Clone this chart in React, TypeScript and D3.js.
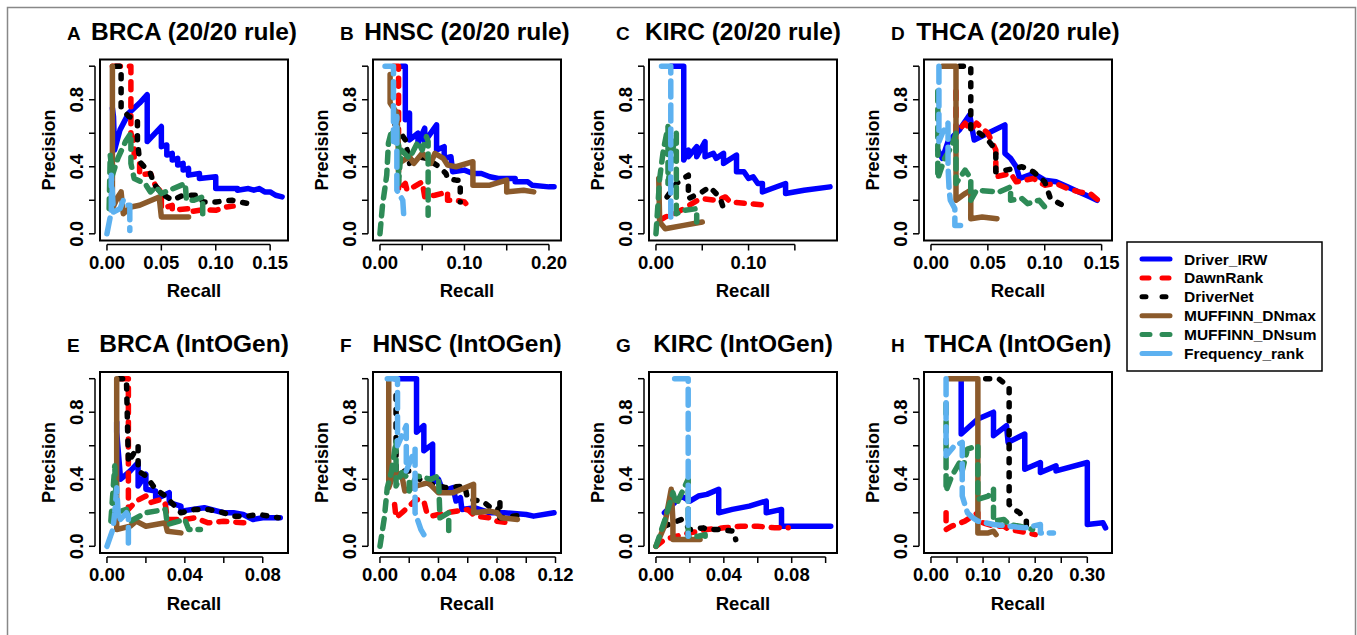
import React from "react";
import * as d3 from "d3";

type Pt = [number, number];

const methods = ["Driver_IRW", "DawnRank", "DriverNet", "MUFFINN_DNmax", "MUFFINN_DNsum", "Frequency_rank"];
const methodColors = ["#0000FF", "#FF0000", "#000000", "#8B5A2B", "#2E8B57", "#5DB1F0"];
const methodDash: (string | null)[] = [null, "8 9", "4 10", null, "10 8", "16 8"];
const legendDash: (string | null)[] = [null, "7 13", "4 16", null, "8 12", null];

const panelLetters = ["A", "B", "C", "D", "E", "F", "G", "H"];
const panelTitles = [
  "BRCA (20/20 rule)", "HNSC (20/20 rule)", "KIRC (20/20 rule)", "THCA (20/20 rule)",
  "BRCA (IntOGen)", "HNSC (IntOGen)", "KIRC (IntOGen)", "THCA (IntOGen)",
];
const panelXMax = [0.16, 0.206, 0.188, 0.153, 0.0894, 0.119, 0.1026, 0.334];
const panelXTicks = [
  [0, 0.05, 0.1, 0.15],
  [0, 0.05, 0.1, 0.15, 0.2],
  [0, 0.05, 0.1, 0.15],
  [0, 0.05, 0.1, 0.15],
  [0, 0.02, 0.04, 0.06, 0.08],
  [0, 0.02, 0.04, 0.06, 0.08, 0.1, 0.12],
  [0, 0.02, 0.04, 0.06, 0.08, 0.1],
  [0, 0.05, 0.1, 0.15, 0.2, 0.25, 0.3],
];
const panelXLabels = [
  [0, 0.05, 0.1, 0.15],
  [0, 0.1, 0.2],
  [0, 0.1],
  [0, 0.05, 0.1, 0.15],
  [0, 0.04, 0.08],
  [0, 0.04, 0.08, 0.12],
  [0, 0.04, 0.08],
  [0, 0.1, 0.2, 0.3],
];
const yTicks = [0, 0.2, 0.4, 0.6, 0.8, 1.0];
const yLabels = [0, 0.4, 0.8];

// ---------- A: BRCA (20/20 rule) ----------
const A_irw: Pt[] = [[0.005,0.75],[0.006,0.7],[0.007,0.5],[0.012,0.62],[0.02,0.72],[0.03,0.78],[0.037,0.83],[0.037,0.55],[0.05,0.64],[0.05,0.52],[0.055,0.53],[0.055,0.47],[0.06,0.48],[0.06,0.44],[0.065,0.45],[0.065,0.41],[0.07,0.42],[0.07,0.38],[0.075,0.39],[0.075,0.35],[0.085,0.36],[0.085,0.33],[0.1,0.34],[0.1,0.27],[0.12,0.27],[0.12,0.26],[0.13,0.27],[0.135,0.26],[0.14,0.27],[0.145,0.25],[0.15,0.25],[0.155,0.23],[0.161,0.22]];
const A_dawn: Pt[] = [[0.005,1.0],[0.022,1.0],[0.022,0.6],[0.025,0.55],[0.025,0.45],[0.03,0.42],[0.03,0.35],[0.04,0.36],[0.045,0.28],[0.05,0.25],[0.05,0.15],[0.06,0.17],[0.06,0.14],[0.075,0.15],[0.075,0.13],[0.09,0.145],[0.1,0.14],[0.11,0.16],[0.116,0.165]];
const A_dnet: Pt[] = [[0.008,1.0],[0.013,1.0],[0.013,0.75],[0.02,0.7],[0.028,0.68],[0.028,0.56],[0.03,0.43],[0.04,0.36],[0.043,0.3],[0.05,0.24],[0.06,0.2],[0.07,0.23],[0.085,0.23],[0.088,0.19],[0.1,0.19],[0.115,0.2],[0.13,0.18]];
const A_max: Pt[] = [[0.005,1.0],[0.005,0.15],[0.01,0.22],[0.013,0.25],[0.015,0.12],[0.02,0.15],[0.022,0.16],[0.03,0.17],[0.048,0.22],[0.05,0.1],[0.058,0.1],[0.075,0.1]];
const A_sum: Pt[] = [[0.002,0.15],[0.003,0.47],[0.005,0.35],[0.01,0.45],[0.017,0.55],[0.022,0.6],[0.022,0.42],[0.025,0.33],[0.035,0.3],[0.04,0.25],[0.045,0.28],[0.05,0.24],[0.072,0.3],[0.073,0.2],[0.08,0.2],[0.088,0.22],[0.088,0.12]];
const A_freq: Pt[] = [[0,0],[0.003,0.1],[0.004,0.12],[0.004,0.35],[0.006,0.13],[0.012,0.15],[0.015,0.2],[0.018,0.17],[0.021,0.17],[0.021,0.02]];

// ---------- B: HNSC (20/20 rule) ----------
const B_irw: Pt[] = [[0.025,1.0],[0.03,1.0],[0.03,0.68],[0.035,0.72],[0.035,0.56],[0.045,0.6],[0.045,0.54],[0.053,0.63],[0.053,0.55],[0.067,0.65],[0.067,0.5],[0.076,0.52],[0.076,0.45],[0.084,0.46],[0.086,0.37],[0.1,0.38],[0.11,0.36],[0.12,0.36],[0.13,0.34],[0.14,0.33],[0.16,0.33],[0.16,0.31],[0.175,0.31],[0.18,0.29],[0.2,0.28],[0.206,0.28]];
const B_dawn: Pt[] = [[0.016,1.0],[0.022,1.0],[0.022,0.75],[0.022,0.26],[0.03,0.3],[0.032,0.26],[0.04,0.28],[0.05,0.31],[0.053,0.22],[0.065,0.23],[0.08,0.25],[0.08,0.2],[0.09,0.2],[0.1,0.19],[0.105,0.16]];
const B_dnet: Pt[] = [[0.018,0.65],[0.022,0.62],[0.03,0.56],[0.035,0.42],[0.045,0.46],[0.055,0.45],[0.07,0.4],[0.078,0.36],[0.08,0.33],[0.09,0.32],[0.095,0.32],[0.095,0.19]];
const B_max: Pt[] = [[0.012,0.95],[0.012,0.78],[0.02,0.72],[0.022,0.5],[0.022,0.42],[0.035,0.46],[0.04,0.42],[0.05,0.48],[0.055,0.46],[0.06,0.42],[0.065,0.48],[0.075,0.45],[0.08,0.41],[0.09,0.4],[0.11,0.43],[0.11,0.29],[0.13,0.29],[0.15,0.32],[0.15,0.25],[0.17,0.26],[0.182,0.25]];
const B_sum: Pt[] = [[0,0],[0.003,0.17],[0.008,0.35],[0.01,0.54],[0.014,0.62],[0.018,0.55],[0.02,0.62],[0.022,0.55],[0.022,0.3],[0.025,0.5],[0.035,0.45],[0.045,0.55],[0.05,0.5],[0.055,0.58],[0.057,0.55],[0.057,0.11]];
const B_freq: Pt[] = [[0.006,1.0],[0.016,1.0],[0.016,0.55],[0.02,0.7],[0.02,0.26],[0.027,0.2],[0.028,0.12]];

// ---------- C: KIRC (20/20 rule) ----------
const C_irw: Pt[] = [[0.016,1.0],[0.03,1.0],[0.03,0.44],[0.035,0.5],[0.035,0.46],[0.044,0.52],[0.044,0.46],[0.053,0.55],[0.053,0.46],[0.062,0.48],[0.065,0.45],[0.073,0.48],[0.073,0.42],[0.087,0.47],[0.087,0.37],[0.095,0.37],[0.1,0.33],[0.105,0.34],[0.11,0.3],[0.115,0.3],[0.115,0.25],[0.14,0.3],[0.14,0.24],[0.16,0.26],[0.188,0.28]];
const C_dawn: Pt[] = [[0.004,0.08],[0.01,0.1],[0.02,0.12],[0.03,0.15],[0.045,0.2],[0.05,0.21],[0.065,0.2],[0.075,0.22],[0.08,0.19],[0.1,0.18],[0.12,0.17]];
const C_dnet: Pt[] = [[0.012,0.22],[0.022,0.3],[0.035,0.35],[0.035,0.21],[0.05,0.25],[0.058,0.28],[0.065,0.24],[0.07,0.2],[0.073,0.15]];
const C_max: Pt[] = [[0.003,0.33],[0.004,0.07],[0.01,0.03],[0.03,0.05],[0.05,0.07]];
const C_sum: Pt[] = [[0,0],[0.004,0.33],[0.008,0.5],[0.013,0.64],[0.013,0.3],[0.018,0.5],[0.022,0.6],[0.022,0.12],[0.03,0.14],[0.044,0.15],[0.044,0.07]];
const C_freq: Pt[] = [[0.006,1.0],[0.016,1.0],[0.016,0.1]];

// ---------- D: THCA (20/20 rule) ----------
const D_irw: Pt[] = [[0.006,0.5],[0.01,0.45],[0.015,0.55],[0.025,0.62],[0.034,0.71],[0.038,0.56],[0.05,0.6],[0.065,0.65],[0.065,0.48],[0.07,0.45],[0.075,0.4],[0.078,0.33],[0.09,0.36],[0.1,0.32],[0.11,0.31],[0.12,0.28],[0.13,0.25],[0.14,0.22],[0.146,0.2]];
const D_dawn: Pt[] = [[0.022,0.85],[0.022,0.6],[0.03,0.66],[0.035,0.62],[0.04,0.66],[0.05,0.6],[0.057,0.5],[0.057,0.34],[0.07,0.36],[0.075,0.31],[0.09,0.33],[0.1,0.29],[0.11,0.3],[0.12,0.27],[0.13,0.25],[0.14,0.24],[0.147,0.2]];
const D_dnet: Pt[] = [[0.025,1.0],[0.035,1.0],[0.035,0.62],[0.043,0.6],[0.05,0.56],[0.057,0.5],[0.057,0.37],[0.066,0.38],[0.08,0.4],[0.09,0.37],[0.1,0.31],[0.105,0.21],[0.116,0.17]];
const D_max: Pt[] = [[0.01,1.0],[0.022,1.0],[0.022,0.2],[0.03,0.24],[0.035,0.26],[0.035,0.09],[0.045,0.1],[0.058,0.09]];
const D_sum: Pt[] = [[0.006,0.85],[0.006,0.33],[0.012,0.45],[0.018,0.52],[0.022,0.6],[0.022,0.3],[0.03,0.38],[0.035,0.33],[0.035,0.2],[0.04,0.26],[0.06,0.25],[0.07,0.28],[0.07,0.2],[0.08,0.21],[0.085,0.18],[0.095,0.2],[0.1,0.16],[0.106,0.16]];
const D_freq: Pt[] = [[0.007,1.0],[0.007,0.55],[0.01,0.6],[0.015,0.66],[0.015,0.4],[0.016,0.26],[0.017,0.2],[0.021,0.15],[0.021,0.05],[0.026,0.05]];

// ---------- E: BRCA (IntOGen) ----------
const E_irw: Pt[] = [[0.005,0.74],[0.005,0.68],[0.007,0.4],[0.012,0.45],[0.016,0.5],[0.016,0.36],[0.02,0.43],[0.02,0.34],[0.025,0.33],[0.025,0.28],[0.032,0.32],[0.032,0.26],[0.038,0.24],[0.038,0.21],[0.05,0.23],[0.06,0.2],[0.065,0.2],[0.07,0.19],[0.075,0.16],[0.08,0.17],[0.089,0.17]];
const E_dawn: Pt[] = [[0.007,1.0],[0.011,1.0],[0.011,0.68],[0.011,0.22],[0.015,0.27],[0.02,0.3],[0.022,0.26],[0.028,0.28],[0.03,0.25],[0.031,0.16],[0.04,0.16],[0.045,0.17],[0.052,0.14],[0.06,0.15],[0.07,0.14],[0.073,0.14]];
const E_dnet: Pt[] = [[0.006,1.0],[0.01,1.0],[0.011,0.5],[0.016,0.6],[0.016,0.45],[0.02,0.42],[0.025,0.34],[0.03,0.3],[0.038,0.2],[0.045,0.22],[0.052,0.22],[0.06,0.2],[0.065,0.18],[0.072,0.18],[0.078,0.19],[0.088,0.17]];
const E_max: Pt[] = [[0.005,1.0],[0.005,0.1],[0.012,0.12],[0.015,0.15],[0.02,0.12],[0.03,0.14],[0.031,0.09],[0.038,0.08]];
const E_sum: Pt[] = [[0.002,0.15],[0.004,0.48],[0.005,0.2],[0.01,0.22],[0.012,0.15],[0.02,0.2],[0.03,0.22],[0.031,0.13],[0.04,0.16],[0.042,0.1],[0.048,0.1]];
const E_freq: Pt[] = [[0,0],[0.003,0.1],[0.004,0.2],[0.005,0.35],[0.006,0.15],[0.01,0.2],[0.011,0.18],[0.011,0.02]];

// ---------- F: HNSC (IntOGen) ----------
const F_irw: Pt[] = [[0.01,1.0],[0.025,1.0],[0.025,0.68],[0.03,0.72],[0.03,0.57],[0.036,0.61],[0.036,0.38],[0.04,0.4],[0.043,0.33],[0.05,0.35],[0.052,0.27],[0.055,0.29],[0.056,0.22],[0.065,0.23],[0.075,0.2],[0.085,0.2],[0.1,0.19],[0.105,0.18],[0.119,0.2]];
const F_dawn: Pt[] = [[0.01,0.25],[0.011,0.17],[0.015,0.2],[0.02,0.24],[0.025,0.28],[0.03,0.27],[0.032,0.2],[0.035,0.18],[0.045,0.2],[0.06,0.22],[0.065,0.18],[0.075,0.17],[0.08,0.15],[0.088,0.14]];
const F_dnet: Pt[] = [[0.011,0.9],[0.011,0.45],[0.02,0.45],[0.03,0.38],[0.045,0.35],[0.058,0.36],[0.06,0.28],[0.07,0.27],[0.08,0.2],[0.082,0.27],[0.082,0.17],[0.1,0.19]];
const F_max: Pt[] = [[0.006,1.0],[0.006,0.35],[0.01,0.45],[0.015,0.42],[0.017,0.33],[0.025,0.36],[0.033,0.38],[0.04,0.32],[0.05,0.32],[0.064,0.37],[0.064,0.2],[0.075,0.21],[0.08,0.2],[0.083,0.17],[0.094,0.16]];
const F_sum: Pt[] = [[0,0],[0.003,0.17],[0.005,0.35],[0.008,0.45],[0.011,0.63],[0.011,0.36],[0.015,0.44],[0.02,0.4],[0.02,0.33],[0.025,0.42],[0.035,0.4],[0.04,0.42],[0.041,0.17],[0.047,0.2],[0.047,0.08]];
const F_freq: Pt[] = [[0.005,1.0],[0.012,1.0],[0.012,0.6],[0.018,0.72],[0.018,0.45],[0.024,0.58],[0.024,0.2],[0.028,0.1],[0.03,0.07]];

// ---------- G: KIRC (IntOGen) ----------
const G_irw: Pt[] = [[0.005,0.2],[0.01,0.25],[0.015,0.3],[0.02,0.27],[0.025,0.3],[0.03,0.31],[0.037,0.34],[0.037,0.2],[0.045,0.22],[0.055,0.24],[0.065,0.27],[0.065,0.2],[0.074,0.22],[0.074,0.12],[0.09,0.12],[0.103,0.12]];
const G_dawn: Pt[] = [[0,0],[0.005,0.04],[0.012,0.06],[0.02,0.08],[0.03,0.1],[0.04,0.11],[0.05,0.12],[0.06,0.12],[0.07,0.11],[0.078,0.11]];
const G_dnet: Pt[] = [[0.005,0.12],[0.015,0.16],[0.02,0.1],[0.028,0.11],[0.03,0.1],[0.037,0.1],[0.046,0.09],[0.047,0.04]];
const G_max: Pt[] = [[0,0],[0.005,0.12],[0.009,0.34],[0.01,0.15],[0.01,0.04],[0.02,0.04],[0.026,0.04]];
const G_sum: Pt[] = [[0,0],[0.005,0.15],[0.01,0.32],[0.012,0.25],[0.019,0.4],[0.019,0.06],[0.025,0.06],[0.029,0.07],[0.029,0.04]];
const G_freq: Pt[] = [[0.011,1.0],[0.019,1.0],[0.019,0.06]];

// ---------- H: THCA (IntOGen) ----------
const H_irw: Pt[] = [[0.058,1.0],[0.058,0.67],[0.09,0.76],[0.12,0.8],[0.12,0.66],[0.145,0.72],[0.148,0.62],[0.18,0.67],[0.18,0.46],[0.21,0.5],[0.21,0.44],[0.24,0.48],[0.24,0.45],[0.3,0.5],[0.3,0.13],[0.33,0.14],[0.335,0.11]];
const H_dawn: Pt[] = [[0.029,0.2],[0.029,0.1],[0.04,0.12],[0.065,0.15],[0.09,0.2],[0.09,0.14],[0.1,0.14],[0.12,0.12],[0.14,0.12],[0.15,0.1],[0.17,0.09],[0.2,0.07]];
const H_dnet: Pt[] = [[0.105,1.0],[0.13,1.0],[0.15,0.95],[0.15,0.25],[0.16,0.22],[0.17,0.2],[0.183,0.15],[0.183,0.11]];
const H_max: Pt[] = [[0.035,1.0],[0.09,1.0],[0.09,0.08],[0.11,0.08],[0.12,0.09],[0.125,0.07]];
const H_sum: Pt[] = [[0.029,0.85],[0.029,0.33],[0.04,0.42],[0.055,0.5],[0.06,0.45],[0.07,0.58],[0.09,0.6],[0.09,0.28],[0.11,0.3],[0.12,0.34],[0.12,0.15],[0.14,0.16],[0.15,0.13],[0.17,0.12],[0.195,0.1]];
const H_freq: Pt[] = [[0.029,1.0],[0.029,0.54],[0.045,0.6],[0.06,0.62],[0.06,0.42],[0.06,0.3],[0.07,0.2],[0.08,0.17],[0.09,0.15],[0.12,0.13],[0.15,0.12],[0.18,0.11],[0.21,0.13],[0.21,0.08],[0.235,0.08]];

const panelCurves: Pt[][][] = [
  [A_irw, A_dawn, A_dnet, A_max, A_sum, A_freq],
  [B_irw, B_dawn, B_dnet, B_max, B_sum, B_freq],
  [C_irw, C_dawn, C_dnet, C_max, C_sum, C_freq],
  [D_irw, D_dawn, D_dnet, D_max, D_sum, D_freq],
  [E_irw, E_dawn, E_dnet, E_max, E_sum, E_freq],
  [F_irw, F_dawn, F_dnet, F_max, F_sum, F_freq],
  [G_irw, G_dawn, G_dnet, G_max, G_sum, G_freq],
  [H_irw, H_dawn, H_dnet, H_max, H_sum, H_freq],
];

const FONT = "'Liberation Sans', Arial, Helvetica, sans-serif";
const colLefts = [100, 373, 649, 924];
const rowTops = [59.5, 372];
const BOX_W = 188;
const BOX_H = 181;
const LW = 5.5;

function Panel({ idx }: { idx: number }) {
  const col = idx % 4;
  const row = Math.floor(idx / 4);
  const left = colLefts[col];
  const top = rowTops[row];
  const right = left + BOX_W;
  const bottom = top + BOX_H;
  const xmax = panelXMax[idx];
  const xpad = xmax * 0.04;
  const x = d3.scaleLinear().domain([-xpad, xmax + xpad]).range([left, right]);
  const y = d3.scaleLinear().domain([-0.04, 1.04]).range([bottom, top]);
  const line = d3.line<Pt>().x((d) => x(d[0])).y((d) => y(d[1]));
  const ticks = panelXTicks[idx];
  const labels = panelXLabels[idx];
  const axX = left - 5;
  const axY = bottom + 4;
  const cx = (left + right) / 2;
  const cy = (top + bottom) / 2;
  return (
    <g>
      <text x={left - 33} y={top - 20} fontFamily={FONT} fontWeight="bold" fontSize={19}>{panelLetters[idx]}</text>
      <text x={cx} y={top - 20} textAnchor="middle" fontFamily={FONT} fontWeight="bold" fontSize={24.5}>{panelTitles[idx]}</text>
      <line x1={axX} x2={axX} y1={y(0)} y2={y(1)} stroke="#000" strokeWidth={1.5} />
      {yTicks.map((t) => (
        <line key={"yt" + t} x1={axX - 6} x2={axX} y1={y(t)} y2={y(t)} stroke="#000" strokeWidth={1.5} />
      ))}
      {yLabels.map((t) => (
        <text key={"yl" + t} transform={`translate(${left - 17},${y(t)}) rotate(-90)`} textAnchor="middle"
          fontFamily={FONT} fontWeight="bold" fontSize={18.5}>{d3.format(".1f")(t)}</text>
      ))}
      <line x1={x(ticks[0])} x2={x(ticks[ticks.length - 1])} y1={axY} y2={axY} stroke="#000" strokeWidth={1.5} />
      {ticks.map((t) => (
        <line key={"xt" + t} x1={x(t)} x2={x(t)} y1={axY} y2={axY + 6} stroke="#000" strokeWidth={1.5} />
      ))}
      {labels.map((t) => (
        <text key={"xl" + t} x={x(t)} y={bottom + 28} textAnchor="middle" fontFamily={FONT} fontWeight="bold" fontSize={18.5}>
          {d3.format(".2f")(t)}
        </text>
      ))}
      <text x={cx} y={bottom + 56.5} textAnchor="middle" fontFamily={FONT} fontWeight="bold" fontSize={18.5}>Recall</text>
      <text transform={`translate(${left - 45},${cy}) rotate(-90)`} textAnchor="middle" fontFamily={FONT} fontWeight="bold" fontSize={18}>Precision</text>
      {panelCurves[idx].map((c, m) => (
        <path key={"c" + m} d={line(c) || ""} fill="none" stroke={methodColors[m]} strokeWidth={LW}
          strokeDasharray={methodDash[m] || undefined} strokeLinecap="round" strokeLinejoin="round" />
      ))}
      <rect x={left} y={top} width={BOX_W} height={BOX_H} fill="none" stroke="#000" strokeWidth={2} />
    </g>
  );
}

function Legend() {
  const lx = 1127, ly = 242, lw = 195, lh = 129;
  const rowY = d3.range(methods.length).map((i) => ly + 17 + i * 18.9);
  return (
    <g>
      <rect x={lx} y={ly} width={lw} height={lh} fill="#fff" stroke="#000" strokeWidth={1.5} />
      {methods.map((m, i) => (
        <g key={m}>
          <line x1={1142} x2={1170} y1={rowY[i]} y2={rowY[i]} stroke={methodColors[i]} strokeWidth={5}
            strokeDasharray={legendDash[i] || undefined} strokeLinecap="round" />
          <text x={1184} y={rowY[i] + 5.5} fontFamily={FONT} fontWeight="bold" fontSize={15.5}>{m}</text>
        </g>
      ))}
    </g>
  );
}

export default function App() {
  return (
    <svg width={1357} height={635} style={{ position: "absolute", left: 0, top: 0, background: "#fff" }}>
      <rect x={0} y={0} width={1357} height={635} fill="#fff" />
      <rect x={7.5} y={7.5} width={1348} height={640} fill="none" stroke="#888" strokeWidth={1.5} />
      {d3.range(8).map((i) => <Panel key={i} idx={i} />)}
      <Legend />
    </svg>
  );
}
